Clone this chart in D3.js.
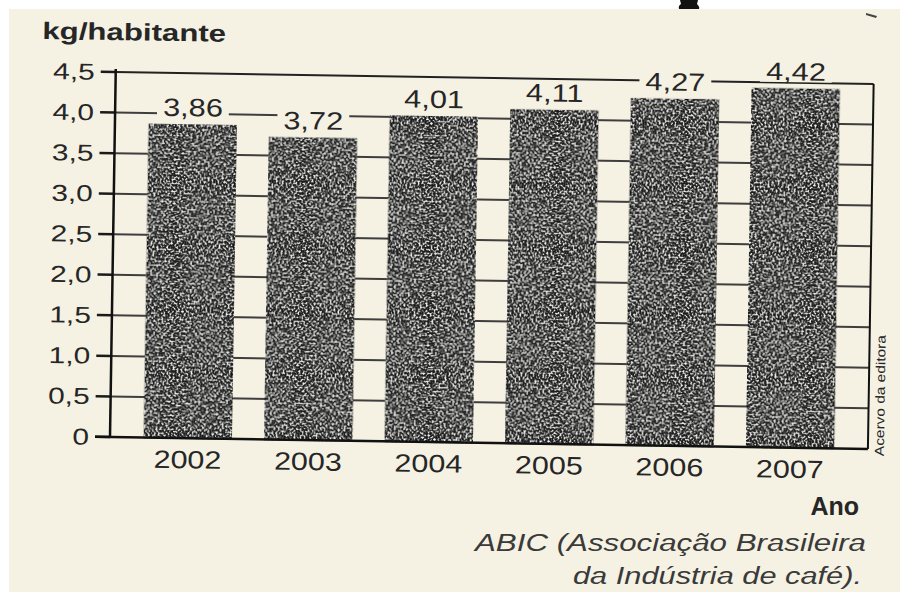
<!DOCTYPE html>
<html>
<head>
<meta charset="utf-8">
<script src="https://cdn.jsdelivr.net/npm/d3@7"></script>
<style>
  html, body { margin: 0; padding: 0; background: #fff; }
  svg { display: block; }
  text { font-family: "Liberation Sans", Arial, sans-serif; fill: #262626; }
</style>
</head>
<body>
<div id="container"></div>
<script>
// valores (ABIC)
var years = ["2002", "2003", "2004", "2005", "2006", "2007"];
var consumo = [3.86, 3.72, 4.01, 4.11, 4.27, 4.42];
var yTicks = [0, 0.5, 1, 1.5, 2, 2.5, 3, 3.5, 4, 4.5];
var yTickLabels = ["0", "0,5", "1,0", "1,5", "2,0", "2,5", "3,0", "3,5", "4,0", "4,5"];

var W = 900, H = 596;
var paper = "#f5f1e3";
var br = d3.formatLocale({decimal: ",", thousands: ".", grouping: [3], currency: ["R$", ""]});
var fmt = br.format(".2f");

var svg = d3.select("#container").append("svg")
    .attr("width", W).attr("height", H);

// grao da impressao nas barras
var defs = svg.append("defs");
var f = defs.append("filter").attr("id", "grain")
    .attr("x", "-5%").attr("y", "-5%").attr("width", "110%").attr("height", "110%");
f.append("feTurbulence").attr("type", "fractalNoise").attr("baseFrequency", "0.5")
    .attr("numOctaves", 2).attr("seed", 7).attr("result", "noise");
f.append("feColorMatrix").attr("in", "noise").attr("type", "matrix")
    .attr("values", "0 0 0 0 0.9  0 0 0 0 0.9  0 0 0 0 0.88  4 0 0 0 -1.95")
    .attr("result", "spots");
f.append("feComposite").attr("in", "spots").attr("in2", "SourceGraphic")
    .attr("operator", "in").attr("result", "clipped");
var m = f.append("feMerge");
m.append("feMergeNode").attr("in", "SourceGraphic");
m.append("feMergeNode").attr("in", "clipped");

// papel escaneado
svg.append("rect").attr("x", 9).attr("y", 9).attr("width", W - 9).attr("height", 583)
    .attr("fill", paper);
// resto de letra cortada no topo
svg.append("path")
    .attr("d", "M680,0 L698,0 L697,4 Q700,7 699,9 L679,9 Q678,6 681,4 Z")
    .attr("fill", "#111");
svg.append("path").attr("d", "M866,13 L877,16 L876,18 L866,15 Z").attr("fill", "#444");

// o grafico esta levemente girado no escaneamento
var g = svg.append("g").attr("transform", "rotate(0.9,110,437)");

var x = d3.scaleBand().domain(years).range([110, 868])
    .paddingInner(0.28).paddingOuter(0.286);
var y = d3.scaleLinear().domain([0, 4.5]).range([437, 72]);

// linhas de grade
g.selectAll("line.grid")
    .data(yTicks.filter(function(d) { return d > 0; }))
    .enter().append("line")
    .attr("class", "grid")
    .attr("x1", 110).attr("x2", 868)
    .attr("y1", function(d) { return y(d); })
    .attr("y2", function(d) { return y(d); })
    .attr("stroke", function(d) { return d == 4.5 ? "#222" : "#3e3e3e"; })
    .attr("stroke-width", 2);

// marcas do eixo
g.selectAll("line.tick")
    .data(yTicks)
    .enter().append("line")
    .attr("class", "tick")
    .attr("x1", 95).attr("x2", 110)
    .attr("y1", function(d) { return y(d); })
    .attr("y2", function(d) { return y(d); })
    .attr("stroke", "#1a1a1a")
    .attr("stroke-width", 2.5);

// barras
g.selectAll("rect.bar")
    .data(consumo)
    .enter().append("rect")
    .attr("class", "bar")
    .attr("x", function(d, i) { return x(years[i]); })
    .attr("y", function(d) { return y(d); })
    .attr("width", x.bandwidth())
    .attr("height", function(d) { return y(0) - y(d); })
    .attr("fill", "#1c1c1c")
    .attr("stroke", "#111")
    .attr("stroke-width", 1.5)
    .attr("filter", "url(#grain)");

// eixo, base e moldura
g.append("line").attr("x1", 110).attr("x2", 110).attr("y1", y(4.5) - 3).attr("y2", y(0))
    .attr("stroke", "#111").attr("stroke-width", 2.5);
g.append("line").attr("x1", 95).attr("x2", 868).attr("y1", y(0)).attr("y2", y(0))
    .attr("stroke", "#111").attr("stroke-width", 2.5);
g.append("line").attr("x1", 868).attr("x2", 868).attr("y1", y(4.5)).attr("y2", y(0))
    .attr("stroke", "#111").attr("stroke-width", 2);

// rotulos do eixo y
g.selectAll("text.yl")
    .data(yTicks)
    .enter().append("text")
    .attr("class", "yl")
    .attr("transform", function(d) { return "translate(89," + (y(d) + 8) + ") scale(1.3,1)"; })
    .attr("text-anchor", "end")
    .style("font-size", "23px")
    .text(function(d, i) { return yTickLabels[i]; });

// anos
g.selectAll("text.xl")
    .data(years)
    .enter().append("text")
    .attr("class", "xl")
    .attr("transform", function(d) {
        return "translate(" + (x(d) + x.bandwidth() / 2) + "," + (y(0) + 30) + ") scale(1.22,1)";
    })
    .attr("text-anchor", "middle")
    .style("font-size", "25px")
    .text(function(d) { return d; });

// valores sobre as barras, com fundo de papel cortando a grade
var vals = g.selectAll("g.val")
    .data(consumo)
    .enter().append("g")
    .attr("class", "val")
    .attr("transform", function(d, i) {
        return "translate(" + (x(years[i]) + x.bandwidth() / 2) + "," + (y(d) - 9) + ")";
    });
var bg = vals.append("rect").attr("fill", paper);
vals.append("text")
    .attr("transform", "scale(1.23,1)")
    .attr("text-anchor", "middle")
    .style("font-size", "25px")
    .text(function(d) { return fmt(d); });
vals.each(function() {
    var t = d3.select(this).select("text").node();
    var w = t.getComputedTextLength() * 1.23 + 12;
    d3.select(this).select("rect")
        .attr("x", -w / 2).attr("y", -20).attr("width", w).attr("height", 22);
});

// titulo do eixo y
g.append("text")
    .attr("transform", "translate(36,40) scale(1.3,1)")
    .style("font-size", "24px")
    .style("font-weight", "bold")
    .text("kg/habitante");

// credito lateral
g.append("text")
    .attr("transform", "translate(884,444) rotate(-90)")
    .style("font-size", "13px")
    .attr("textLength", 121).attr("lengthAdjust", "spacingAndGlyphs")
    .text("Acervo da editora");

// textos de baixo
svg.append("text")
    .attr("x", 859).attr("y", 515)
    .attr("text-anchor", "end")
    .style("font-size", "25px")
    .style("font-weight", "bold")
    .text("Ano");

var src = svg.append("g").style("font-style", "italic").style("font-size", "23px");
src.append("text").attr("x", 475).attr("y", 551)
    .attr("textLength", 391).attr("lengthAdjust", "spacingAndGlyphs")
    .style("fill", "#3a3a3a")
    .text("ABIC (Associação Brasileira");
src.append("text").attr("x", 573).attr("y", 584)
    .attr("textLength", 289).attr("lengthAdjust", "spacingAndGlyphs")
    .style("fill", "#3a3a3a")
    .text("da Indústria de café).");
</script>
</body>
</html>
